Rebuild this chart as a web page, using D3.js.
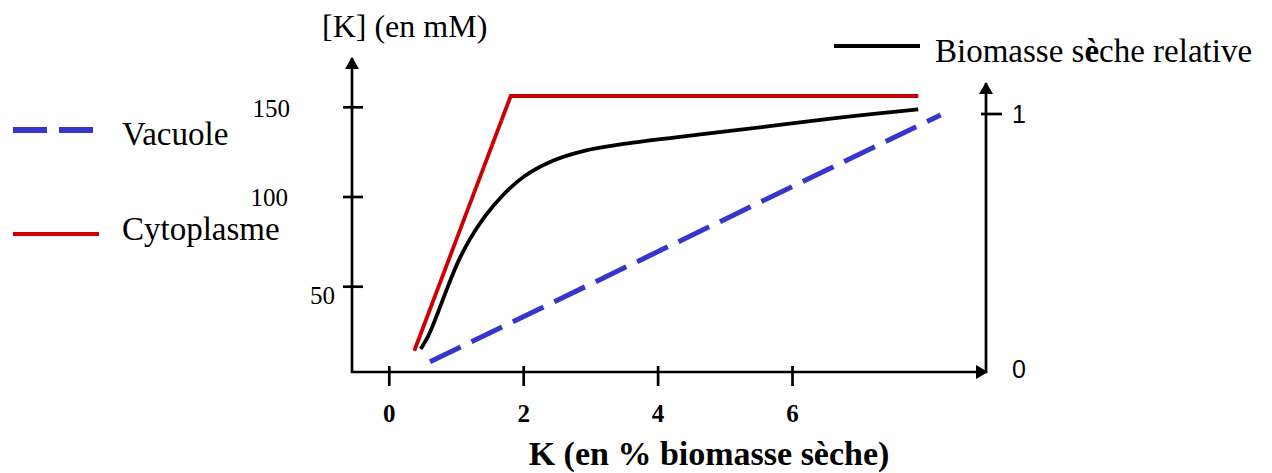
<!DOCTYPE html>
<html>
<head>
<meta charset="utf-8">
<script src="https://cdn.jsdelivr.net/npm/d3@7"></script>
<style>
  html, body { margin: 0; padding: 0; background: #fff; }
  svg { display: block; }
  text { fill: #000; }
</style>
</head>
<body>
<svg id="chart" width="1272" height="473"></svg>
<script>
// K content in dry biomass (%)
const kCyto = [0.372, 1.807, 7.872];
const cytoplasme = [14.3, 156.3, 156.3];          // mM
const kVac = [0.606, 8.205];
const vacuole = [8.2, 145.7];                     // mM
const kBio = [0.467, 0.58, 0.72, 0.87, 1.02, 1.2, 1.42, 1.7, 2.0, 2.4, 2.9, 3.6, 4.6, 5.6, 6.6, 7.87];
const biomasse = [0.089, 0.14, 0.228, 0.33, 0.425, 0.515, 0.602, 0.688, 0.757, 0.815, 0.857, 0.888, 0.920, 0.951, 0.983, 1.018];

const xTicks = [0, 2, 4, 6];
const yTicks = [150, 100, 50];
const rTicks = [1, 0];

const serif = "'Liberation Serif', 'Times New Roman', serif";
const sans = "'Liberation Sans', Arial, sans-serif";
const RED = "#cc0000", BLUE = "#3636cc";

const svg = d3.select("#chart");

// scales
const x = d3.scaleLinear().domain([0, 6]).range([389.3, 792.5]);
const y = d3.scaleLinear().domain([50, 150]).range([286.7, 107.3]);
const r = d3.scaleLinear().domain([0, 1]).range([372, 114]);

const left = 352, right = 986, base = 372;

// arrow marker
const defs = svg.append("defs");
defs.append("marker").attr("id", "arrow")
  .attr("viewBox", "0 0 12 14").attr("refX", 11).attr("refY", 7)
  .attr("markerWidth", 12).attr("markerHeight", 14)
  .attr("markerUnits", "userSpaceOnUse").attr("orient", "auto")
  .append("path").attr("d", "M0,0 L12,7 L0,14 Z").attr("fill", "#000");

const axes = svg.append("g").attr("stroke", "#000").attr("stroke-width", 2.7).attr("fill", "none");
// left axis
axes.append("line").attr("x1", left).attr("y1", base + 1).attr("x2", left).attr("y2", 58)
  .attr("marker-end", "url(#arrow)");
// bottom axis
axes.append("line").attr("x1", left - 1).attr("y1", base).attr("x2", right + 1).attr("y2", base)
  .attr("marker-end", "url(#arrow)");
// right axis
axes.append("line").attr("x1", right).attr("y1", base + 1).attr("x2", right).attr("y2", 83)
  .attr("marker-end", "url(#arrow)");

// x ticks
axes.selectAll(".xt").data(xTicks).join("line")
  .attr("x1", d => x(d)).attr("x2", d => x(d))
  .attr("y1", base - 6).attr("y2", base + 14);
svg.selectAll(".xl").data(xTicks).join("text")
  .attr("x", d => x(d)).attr("y", 422)
  .attr("text-anchor", "middle")
  .attr("font-family", serif).attr("font-weight", "bold").attr("font-size", 25)
  .text(d => d);

// y ticks (left)
axes.selectAll(".yt").data(yTicks).join("line")
  .attr("x1", left - 9).attr("x2", left + 11)
  .attr("y1", d => y(d)).attr("y2", d => y(d));
const yLabelPos = { 150: [290, 9.4], 100: [288, 8.7], 50: [335, 17.3] };
svg.selectAll(".yl").data(yTicks).join("text")
  .attr("x", d => yLabelPos[d][0]).attr("y", d => y(d) + yLabelPos[d][1])
  .attr("text-anchor", "end")
  .attr("font-family", serif).attr("font-size", 25)
  .text(d => d);

// right axis tick + labels
axes.append("line").attr("x1", right - 5).attr("x2", right + 16)
  .attr("y1", r(1)).attr("y2", r(1));
svg.selectAll(".rl").data(rTicks).join("text")
  .attr("x", 1012).attr("y", d => d === 1 ? r(d) + 9 : r(d) + 6)
  .attr("font-family", sans).attr("font-size", 25)
  .text(d => d);

// axis titles
svg.append("text").attr("x", 322).attr("y", 37)
  .attr("font-family", serif).attr("font-size", 32)
  .text("[K] (en mM)");
svg.append("text").attr("x", 709).attr("y", 465)
  .attr("text-anchor", "middle")
  .attr("font-family", serif).attr("font-weight", "bold").attr("font-size", 34)
  .text("K (en % biomasse sèche)");

// series
const lineK = d3.line().x(d => x(d[0])).y(d => y(d[1]));
svg.append("path")
  .datum(d3.zip(kCyto, cytoplasme))
  .attr("d", lineK)
  .attr("fill", "none").attr("stroke", RED).attr("stroke-width", 3.8)
  .attr("stroke-linejoin", "miter");

svg.append("path")
  .datum(d3.zip(kVac, vacuole))
  .attr("d", lineK)
  .attr("fill", "none").attr("stroke", BLUE).attr("stroke-width", 5)
  .attr("stroke-dasharray", "34,12");

const lineBio = d3.line().x(d => x(d[0])).y(d => r(d[1])).curve(d3.curveCatmullRom.alpha(0.5));
svg.append("path")
  .datum(d3.zip(kBio, biomasse))
  .attr("d", lineBio)
  .attr("fill", "none").attr("stroke", "#000").attr("stroke-width", 3.8);

// legends
svg.append("line").attr("x1", 13).attr("x2", 94).attr("y1", 130).attr("y2", 130)
  .attr("stroke", BLUE).attr("stroke-width", 6).attr("stroke-dasharray", "34,12");
svg.append("text").attr("x", 122).attr("y", 145)
  .attr("font-family", serif).attr("font-size", 33).text("Vacuole");

svg.append("line").attr("x1", 13).attr("x2", 99).attr("y1", 234).attr("y2", 234)
  .attr("stroke", RED).attr("stroke-width", 4);
svg.append("text").attr("x", 122).attr("y", 240)
  .attr("font-family", serif).attr("font-size", 33).text("Cytoplasme");

svg.append("line").attr("x1", 834).attr("x2", 920).attr("y1", 46).attr("y2", 46)
  .attr("stroke", "#000").attr("stroke-width", 4);
const bt = svg.append("text").attr("x", 935).attr("y", 62)
  .attr("font-family", serif).attr("font-size", 33);
bt.append("tspan").text("Biomasse s");
bt.append("tspan").attr("font-weight", "bold").text("è");
bt.append("tspan").text("che relative");
</script>
</body>
</html>
